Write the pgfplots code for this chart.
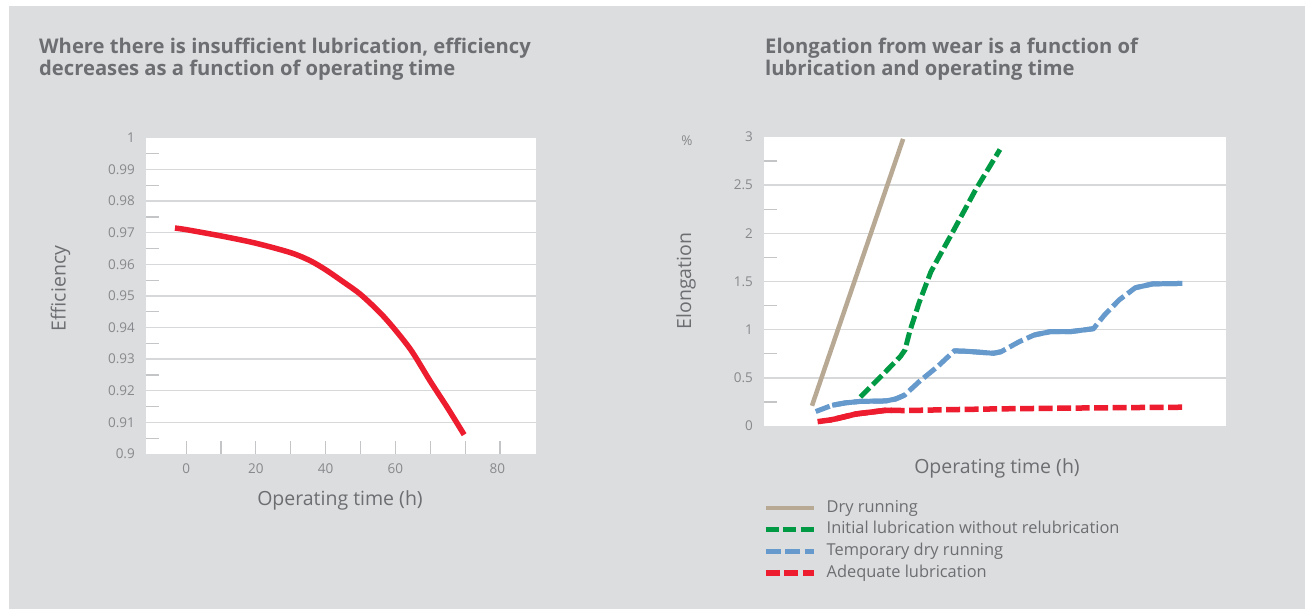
\documentclass[border=0pt]{standalone}
\usepackage{fontspec}
\setmainfont{Open Sans}
\usepackage{pgfplots}
\pgfplotsset{compat=1.18}
\definecolor{bggray}{HTML}{DCDDDF}
\definecolor{titlegray}{HTML}{6D6E71}
\definecolor{labgray}{HTML}{87898C}
\definecolor{gridgray}{HTML}{D7D8D9}
\definecolor{tickgray}{HTML}{C4C5C7}
\definecolor{redc}{HTML}{ED1C2E}
\definecolor{greenc}{HTML}{009A44}
\definecolor{bluec}{HTML}{6699CC}
\definecolor{tanc}{HTML}{B8A994}
\pgfplotsset{
  common/.style={
    scale only axis,
    axis background/.style={fill=white},
    axis line style={draw=none},
    major tick length=0pt,
    tick align=inside,
    xtick pos=bottom, ytick pos=left,
    tick style={draw=tickgray, line width=1.2pt},
    ymajorgrids,
    major grid style={draw=gridgray, line width=1.4pt},
    extra y tick style={grid=none},
    /pgf/number format/assume math mode=true,
    ticklabel style={font=\fontsize{13.5}{15}\selectfont, text=labgray},
    yticklabel style={anchor=east, inner sep=0pt, xshift=-11pt},
    xticklabel style={anchor=north, inner sep=0pt, yshift=-10pt},
  }
}
\begin{document}
\begin{tikzpicture}[x=1pt,y=1pt]
\fill[white] (0,0) rectangle (1305,609);
\fill[bggray] (9,0) rectangle (1305,603);
% titles
\tikzset{ttl/.style={anchor=base west, inner sep=0pt, text=titlegray, font=\bfseries\fontsize{20.2}{24}\selectfont}}
\node[ttl] at (39,555) {Where there is insufficient lubrication, efficiency};
\node[ttl] at (39,533) {decreases as a function of operating time};
\node[ttl] at (765,555) {Elongation from wear is a function of};
\node[ttl] at (765,533) {lubrication and operating time};
% left axis
\begin{axis}[common,
  at={(146pt,155pt)}, anchor=south west,
  width=390pt, height=316pt,
  xmin=-11.5, xmax=100.3, ymin=0.9, ymax=1,
  xtick={0,20,40,60,89.2}, xticklabels={0,20,40,60,80},
  minor xtick={0,10,20,30,40,50,60,70,80,90},
  ytick={0.91,0.92,0.93,0.94,0.95,0.96,0.97,0.98,0.99},
  extra y ticks={0.9,1},
  minor ytick={0.905,0.915,0.925,0.935,0.945,0.955,0.965,0.975,0.985,0.995},
  minor tick length=13pt,
  yticklabel style={/pgf/number format/fixed, /pgf/number format/precision=2},
]
\addplot[redc, line width=5.5pt, smooth] coordinates {
(-3.2,0.9715) (0,0.9710) (10,0.9690) (20,0.9667) (30,0.9637) (35.5,0.9612) (40,0.9583) (45,0.9545) (50,0.9505) (55.6,0.9447) (60,0.9392) (64.7,0.9325) (70,0.9230) (75,0.9145) (79.7,0.9061)};
\end{axis}
\node[rotate=90, text=titlegray, font=\fontsize{19.5}{22}\selectfont] at (60.5,320.5) {Efficiency};
\node[text=titlegray, font=\fontsize{19.5}{22}\selectfont] at (340,109) {Operating time (h)};
% right axis
\begin{axis}[common,
  at={(764pt,183pt)}, anchor=south west,
  width=462pt, height=289pt,
  xmin=-1, xmax=8.83, ymin=0, ymax=3,
  xtick=\empty,
  minor xtick={0,1,2,3,4,5,6,7,8},
  ytick={0.5,1,1.5,2,2.5},
  extra y ticks={0,3},
  minor ytick={0.25,0.75,1.25,1.75,2.25,2.75},
  minor tick length=12.5pt,
  legend style={draw=none, fill=none, inner sep=0pt, at={(-0.0022,-0.396)}, anchor=west,
    font=\fontsize{16.4}{18}\selectfont, text=titlegray, row sep=6.2pt,
    nodes={inner sep=0pt, anchor=west, text height=12pt, text depth=3.5pt},
    /tikz/every odd column/.append style={column sep=10pt}},
  legend cell align=left,
  legend image code/.code={\draw[#1] (0pt,0pt) -- (48pt,0pt);},
]
\addplot[tanc, line width=4.5pt] coordinates {(0.02,0.21) (1.96,2.98)};
\addlegendentry{Dry running}
\addplot[greenc, line width=5pt, dash pattern=on 13pt off 4.5pt] coordinates {
(1.05,0.30) (1.5,0.52) (1.9,0.72) (2.0,0.79) (2.1,0.98) (2.3,1.28) (2.55,1.60) (2.75,1.78) (3.0,2.0) (3.5,2.45) (4.02,2.87)};
\addlegendentry{Initial lubrication without relubrication}
\addplot[bluec, line width=5pt, dash pattern=on 15pt off 4.5pt] coordinates {
(0.10,0.15) (0.45,0.215) (0.73,0.24) (1.04,0.255) (1.59,0.26) (1.8,0.28) (1.99,0.32) (2.30,0.46) (2.70,0.62) (3.05,0.78) (3.33,0.775) (3.88,0.755) (4.04,0.77) (4.43,0.875) (4.75,0.945) (5.10,0.98) (5.53,0.98) (6.01,1.01) (6.24,1.15) (6.56,1.31) (6.90,1.435) (7.27,1.475) (7.90,1.48)};
\addlegendentry{Temporary dry running}
\addplot[redc, line width=5.5pt, dash pattern=on 14pt off 4.5pt] coordinates {
(0.14,0.045) (0.40,0.062) (0.49,0.07) (0.96,0.125) (1.59,0.163) (1.72,0.163) (1.99,0.16) (3,0.17) (4,0.178) (5,0.183) (6,0.188) (7,0.192) (7.94,0.195)};
\addlegendentry{Adequate lubrication}
\addplot[bluec, line width=5pt, forget plot] coordinates {(0.45,0.215) (0.73,0.24) (1.04,0.255) (1.59,0.26) (1.8,0.28) (1.99,0.32)};
\addplot[bluec, line width=5pt, forget plot] coordinates {(3.05,0.78) (3.33,0.775) (3.88,0.755) (4.04,0.77)};
\addplot[bluec, line width=5pt, forget plot] coordinates {(4.75,0.945) (5.10,0.98) (5.53,0.98) (6.01,1.01)};
\addplot[bluec, line width=5pt, forget plot] coordinates {(6.90,1.435) (7.27,1.475) (7.90,1.48)};
\addplot[redc, line width=5.5pt, forget plot] coordinates {(0.40,0.062) (0.49,0.07) (0.96,0.125) (1.59,0.163) (1.72,0.163)};
\end{axis}
\node[text=labgray, font=\fontsize{13.5}{15}\selectfont] at (687,468) {\%};
\node[rotate=90, text=titlegray, font=\fontsize{19.5}{22}\selectfont] at (686,328) {Elongation};
\node[text=titlegray, font=\fontsize{19.5}{22}\selectfont] at (997,141) {Operating time (h)};
\end{tikzpicture}
\end{document}
